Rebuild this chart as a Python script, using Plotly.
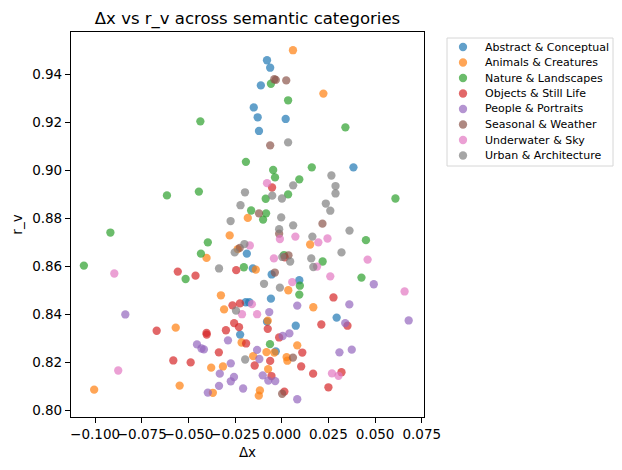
import plotly.graph_objects as go

categories = ["Abstract & Conceptual", "Animals & Creatures", "Nature & Landscapes",
              "Objects & Still Life", "People & Portraits", "Seasonal & Weather",
              "Underwater & Sky", "Urban & Architecture"]
colors = ["#1f77b4", "#ff7f0e", "#2ca02c", "#d62728", "#9467bd", "#8c564b", "#e377c2", "#7f7f7f"]

abstract_dx = [-0.0079, -0.0062, -0.0112, -0.0150, -0.0129, 0.0021, -0.0122, 0.0384, -0.0187, -0.0155,
               -0.0054, 0.0094, -0.0058, -0.0193, -0.0174, -0.0079, 0.0075, 0.0294, -0.0223, -0.0032]
abstract_rv = [0.9460, 0.9429, 0.9355, 0.9263, 0.9222, 0.9215, 0.9165, 0.9013, 0.8653, 0.8591,
               0.8566, 0.8542, 0.8465, 0.8450, 0.8450, 0.8369, 0.8352, 0.8386, 0.8315, 0.8245]

animals_dx = [0.0060, 0.0223, -0.0182, -0.0279, -0.0236, -0.0403, -0.0139, 0.0152, -0.0326, 0.0035,
              -0.0309, 0.0169, -0.0568, -0.0075, -0.0215, 0.0083, -0.0082, -0.0040, 0.0026, 0.0030,
              -0.0153, -0.0378, -0.0315, -0.0073, -0.1005, -0.0547, -0.0369, -0.0117, -0.0123]
animals_rv = [0.9502, 0.9321, 0.8802, 0.8729, 0.8672, 0.8635, 0.8586, 0.8691, 0.8479, 0.8500,
              0.8420, 0.8429, 0.8344, 0.8373, 0.8282, 0.8270, 0.8242, 0.8240, 0.8221, 0.8206,
              0.8225, 0.8177, 0.8182, 0.8171, 0.8085, 0.8102, 0.8072, 0.8082, 0.8060]

nature_dx = [-0.0058, 0.0034, -0.0436, 0.0341, -0.0192, -0.0046, -0.0036, 0.0094, 0.0161, -0.0615,
             -0.0444, 0.0034, -0.0086, 0.0609, -0.0164, -0.0084, -0.0100, -0.0918, -0.0396, -0.0433,
             0.0451, 0.0012, 0.0219, -0.0203, -0.1060, -0.0515, 0.0427, 0.0097, 0.0094, -0.0063]
nature_rv = [0.9362, 0.9293, 0.9205, 0.9180, 0.9036, 0.9002, 0.8971, 0.8963, 0.9013, 0.8896,
             0.8912, 0.8900, 0.8882, 0.8883, 0.8833, 0.8821, 0.8795, 0.8741, 0.8700, 0.8653,
             0.8709, 0.8647, 0.8620, 0.8596, 0.8603, 0.8547, 0.8553, 0.8519, 0.8482, 0.8275]

objects_dx = [-0.0052, 0.0016, -0.0557, -0.0462, -0.0244, -0.0264, -0.0224, 0.0277, -0.0255, -0.0229,
              -0.0670, -0.0403, -0.0402, -0.0299, -0.0075, -0.0014, -0.0191, 0.0212, 0.0352, -0.0337,
              -0.0581, -0.0488, -0.0062, 0.0110, -0.0145, 0.0104, 0.0168, 0.0320, -0.0055, 0.0250, 0.0014]
objects_rv = [0.8929, 0.8637, 0.8578, 0.8561, 0.8584, 0.8437, 0.8445, 0.8470, 0.8363, 0.8346,
              0.8331, 0.8322, 0.8315, 0.8333, 0.8339, 0.8303, 0.8278, 0.8357, 0.8352, 0.8241,
              0.8207, 0.8199, 0.8205, 0.8240, 0.8186, 0.8182, 0.8152, 0.8158, 0.8142, 0.8095, 0.8077]

people_dx = [-0.0838, -0.0454, -0.0430, -0.0417, -0.0288, -0.0273, -0.0332, -0.0256, -0.0273, -0.0336,
             -0.0396, -0.0207, -0.0132, -0.0120, -0.0102, -0.0072, -0.0035, -0.0067, 0.0005, 0.0041,
             0.0083, 0.0083, 0.0362, 0.0340, 0.0309, 0.0375, 0.0493, 0.0680]
people_rv = [0.8399, 0.8274, 0.8257, 0.8253, 0.8291, 0.8195, 0.8152, 0.8138, 0.8120, 0.8101,
             0.8073, 0.8090, 0.8251, 0.8213, 0.8145, 0.8123, 0.8121, 0.8409, 0.8309, 0.8320,
             0.8436, 0.8045, 0.8441, 0.8363, 0.8241, 0.8252, 0.8525, 0.8374]

seasonal_dx = [-0.0040, -0.0032, 0.0024, -0.0062, -0.0122, 0.0218, -0.0225, 0.0036, -0.0037, 0.0060,
               0.0002, -0.0014]
seasonal_rv = [0.9381, 0.9378, 0.9376, 0.9105, 0.8821, 0.8778, 0.8677, 0.8646, 0.8574, 0.8219,
               0.8068, 0.8736]

underwater_dx = [-0.0079, -0.0171, -0.0010, 0.0073, 0.0196, 0.0245, -0.0042, 0.0460, -0.0897, 0.0189,
                 0.0260, 0.0056, 0.0658, -0.0160, -0.0213, -0.0132, -0.0876, 0.0269, 0.0304]
underwater_rv = [0.8947, 0.8687, 0.8714, 0.8724, 0.8700, 0.8716, 0.8633, 0.8628, 0.8570, 0.8599,
                 0.8558, 0.8534, 0.8495, 0.8442, 0.8400, 0.8400, 0.8165, 0.8153, 0.8143]

urban_dx = [0.0034, 0.0266, 0.0061, 0.0288, 0.0288, -0.0197, -0.0051, 0.0001, -0.0221, 0.0236,
            0.0260, -0.0003, -0.0274, 0.0061, -0.0014, 0.0363, 0.0164, -0.0200, -0.0252, 0.0003,
            0.0045, 0.0158, 0.0169, 0.0320, -0.0336, -0.0095, -0.0010, -0.0245, -0.0196]
urban_rv = [0.9117, 0.8979, 0.8938, 0.8935, 0.8904, 0.8909, 0.8895, 0.8883, 0.8855, 0.8862,
            0.8832, 0.8804, 0.8789, 0.8771, 0.8755, 0.8749, 0.8724, 0.8693, 0.8658, 0.8639,
            0.8620, 0.8633, 0.8597, 0.8658, 0.8591, 0.8527, 0.8511, 0.8415, 0.8211]

x_ticks = [-0.100, -0.075, -0.050, -0.025, 0.000, 0.025, 0.050, 0.075]
x_tick_labels = ["\u22120.100", "\u22120.075", "\u22120.050", "\u22120.025", "0.000", "0.025", "0.050", "0.075"]
y_ticks = [0.80, 0.82, 0.84, 0.86, 0.88, 0.90, 0.92, 0.94]
y_tick_labels = ["0.80", "0.82", "0.84", "0.86", "0.88", "0.90", "0.92", "0.94"]

series = [(abstract_dx, abstract_rv), (animals_dx, animals_rv), (nature_dx, nature_rv),
          (objects_dx, objects_rv), (people_dx, people_rv), (seasonal_dx, seasonal_rv),
          (underwater_dx, underwater_rv), (urban_dx, urban_rv)]

FONT = "DejaVu Sans"
W, H = 622, 470
ML, MR, MT, MB = 71, 198, 32, 53
PW, PH = W - ML - MR, H - MT - MB


def px_x(p):
    return (p - ML) / PW


def px_y(p):
    return (H - MB - p) / PH


fig = go.Figure()
for name, color, (xs, ys) in zip(categories, colors, series):
    fig.add_trace(go.Scatter(
        x=xs, y=ys, mode="markers", name=name, showlegend=False,
        marker=dict(size=8.3, color=color, opacity=0.7, line=dict(width=0)),
    ))

# legend drawn to match matplotlib's compact legend
shapes = []
annotations = []
box_l, box_r, box_t, box_b = 447, 613, 38, 166
shapes.append(dict(type="rect", xref="paper", yref="paper",
                   x0=px_x(box_l), x1=px_x(box_r), y0=px_y(box_b), y1=px_y(box_t),
                   line=dict(color="#d6d6d6", width=1), fillcolor="rgba(255,255,255,0.8)",
                   layer="above"))
r = 4.15
for i, (name, color) in enumerate(zip(categories, colors)):
    cy = 47 + 15.5 * i
    cx = 463
    shapes.append(dict(type="circle", xref="paper", yref="paper",
                       x0=px_x(cx - r), x1=px_x(cx + r), y0=px_y(cy + r), y1=px_y(cy - r),
                       fillcolor=color, opacity=0.7, line=dict(width=0), layer="above"))
    annotations.append(dict(text=name, xref="paper", yref="paper", x=px_x(483), y=px_y(cy),
                            xanchor="left", yanchor="middle", showarrow=False,
                            font=dict(family=FONT, size=11, color="black")))

fig.update_layout(
    width=W, height=H,
    margin=dict(l=ML, r=MR, t=MT, b=MB),
    paper_bgcolor="white", plot_bgcolor="white",
    font=dict(family=FONT, size=13.5, color="black"),
    title=dict(text="\u0394x vs r_v across semantic categories", x=0.5, xref="paper",
               y=1 - 18 / 470, yref="container", xanchor="center", yanchor="middle",
               font=dict(family=FONT, size=16.5, color="black")),
    showlegend=False,
    shapes=shapes,
    annotations=annotations,
)
fig.update_xaxes(range=[-0.1129, 0.0762], tickvals=x_ticks, ticktext=x_tick_labels, tickangle=0,
                 showline=True, mirror=True, linecolor="black", linewidth=1.2,
                 ticks="outside", ticklen=5, tickcolor="black", showgrid=False, zeroline=False,
                 tickfont=dict(family=FONT, size=13.5),
                 title=dict(text="\u0394x", font=dict(family=FONT, size=13.5), standoff=6))
fig.update_yaxes(range=[0.7971, 0.9578], tickvals=y_ticks, ticktext=y_tick_labels,
                 showline=True, mirror=True, linecolor="black", linewidth=1.2,
                 ticks="outside", ticklen=5, tickcolor="black", showgrid=False, zeroline=False,
                 tickfont=dict(family=FONT, size=13.5),
                 title=dict(text="r_v", font=dict(family=FONT, size=13.5), standoff=6))

fig.write_html("out.html")
